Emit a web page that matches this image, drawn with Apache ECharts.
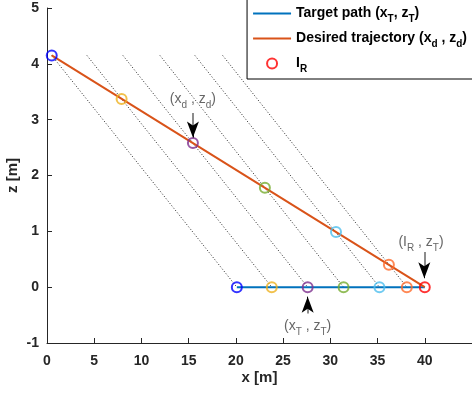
<!DOCTYPE html>
<html>
<head>
<meta charset="utf-8">
<script src="https://cdn.jsdelivr.net/npm/echarts@6/dist/echarts.min.js"></script>
<style>
  html, body { margin: 0; padding: 0; background: #fff; }
  #box { width: 472px; height: 396px; }
</style>
</head>
<body>
<div id="box"></div>
<script>
// 数据
var targetX = [20.1, 23.8, 27.6, 31.4, 35.2, 38.1, 40];
var targetZ = [0, 0, 0, 0, 0, 0, 0];
var trajX = [0.5, 7.9, 15.45, 23.07, 30.6, 36.2, 40];
var trajZ = [4.15, 3.37, 2.58, 1.78, 0.99, 0.40, 0];
var dotTopX = [0.5, 4.23, 8.04, 11.96, 15.66, 18.6];
var dotTopZ = [4.15, 4.15, 4.15, 4.15, 4.15, 4.15];
var pointColors = ['#0000ff', '#EDB120', '#7E2F8E', '#77AC30', '#4DBEEE', '#FF6A2A', '#ff0000'];
// 标注: [x, z, 文字]
var notes = [
    [15.45, 3.36, '{a|(x}{s|d}{a| , z}{s|d}{a|)}'],
    [27.6, -0.7, '{a|(x}{s|T}{a| , z}{s|T}{a|)}'],
    [39.6, 0.8, '{a|(I}{s|R}{a| , z}{s|T}{a|)}']
];
// 箭头: [x, 起点z, 终点z]
var arrows = [
    [15.45, 3.12, 2.68],
    [27.6, -0.47, -0.17],
    [39.95, 0.63, 0.16]
];

var myChart = echarts.init(document.getElementById('box'));

var subRich = {
    a: { fontSize: 14, lineHeight: 15, verticalAlign: 'top', color: '#404040', fontFamily: 'Liberation Sans' },
    s: { fontSize: 10, lineHeight: 10, padding: [8, 0, 0, 0], verticalAlign: 'top', color: '#404040', fontFamily: 'Liberation Sans' }
};
var legRich = {
    a: { fontSize: 14, lineHeight: 15, verticalAlign: 'top', fontWeight: 'bold', color: '#000', fontFamily: 'Liberation Sans' },
    s: { fontSize: 10, lineHeight: 10, padding: [8, 0, 0, 0], verticalAlign: 'top', fontWeight: 'bold', color: '#000', fontFamily: 'Liberation Sans' }
};
var legNames = {
    'Target path': '{a|Target path (x}{s|T}{a|, z}{s|T}{a|)}',
    'Desired trajectory': '{a|Desired trajectory (x}{s|d}{a| , z}{s|d}{a|)}',
    'I_R': '{a|I}{s|R}'
};

function circles(xs, zs) {
    return xs.map(function (x, i) {
        return {
            value: [x, zs[i]],
            itemStyle: { borderColor: pointColors[i] }
        };
    });
}

var series = [];
// 虚线
dotTopX.forEach(function (x, i) {
    series.push({
        type: 'line',
        silent: true,
        symbol: 'none',
        data: [[x, dotTopZ[i]], [targetX[i], targetZ[i]]],
        lineStyle: { color: '#222', width: 1, type: [1, 2] },
        z: 1
    });
});
series.push({
    name: 'Target path',
    type: 'line',
    symbol: 'none',
    data: [[targetX[0], targetZ[0]], [targetX[6], targetZ[6]]],
    itemStyle: { color: '#0072BD' },
    lineStyle: { color: '#0072BD', width: 2 },
    z: 2
});
series.push({
    name: 'Desired trajectory',
    type: 'line',
    symbol: 'none',
    data: [[trajX[0], trajZ[0]], [trajX[6], trajZ[6]]],
    itemStyle: { color: '#D95319' },
    lineStyle: { color: '#D95319', width: 2 },
    z: 2
});
series.push({
    type: 'scatter',
    symbol: 'circle',
    symbolSize: 10,
    data: circles(targetX.slice(0, 6), targetZ).concat(circles(trajX.slice(0, 6), trajZ)),
    itemStyle: { color: 'rgba(0,0,0,0)', borderWidth: 2 },
    z: 3
});
series.push({
    name: 'I_R',
    type: 'scatter',
    symbol: 'circle',
    symbolSize: 10,
    data: [[targetX[6], targetZ[6]]],
    itemStyle: { color: 'rgba(0,0,0,0)', borderColor: '#ff0000', borderWidth: 2 },
    z: 4
});
// 文字和箭头
series.push({
    type: 'scatter',
    symbolSize: 0,
    silent: true,
    data: notes.map(function (n) {
        return { value: [n[0], n[1]], label: { formatter: n[2] } };
    }),
    label: { show: true, position: 'inside', rich: subRich },
    markLine: {
        silent: true,
        animation: false,
        label: { show: false },
        data: arrows.map(function (a) {
            var d = a[1] > a[2] ? 1 : -1;
            return [
                { coord: [a[0], a[1]], symbol: 'none', lineStyle: { color: '#666', width: 1.5, type: 'solid' } },
                { coord: [a[0], a[2] + 0.1 * d], symbol: 'none' }
            ];
        }).concat(arrows.map(function (a) {
            var d = a[1] > a[2] ? 1 : -1;
            return [
                { coord: [a[0], a[2] + 0.2 * d], symbol: 'none', lineStyle: { color: '#000', width: 1, type: 'solid' } },
                { coord: [a[0], a[2]], symbol: 'arrow', symbolSize: [9, 16] }
            ];
        }))
    },
    z: 5
});

var noDot = { color: 'rgba(0,0,0,0)', borderWidth: 0 };

var option = {
    animation: false,
    grid: { left: 47, right: 0, top: 8, bottom: 53, outerBoundsMode: 'none', containLabel: false },
    legend: {
        orient: 'vertical',
        right: -4,
        top: -2,
        data: [
            { name: 'Target path', itemStyle: noDot },
            { name: 'Desired trajectory', itemStyle: noDot },
            { name: 'I_R', icon: 'circle', itemStyle: { color: 'rgba(0,0,0,0)', borderColor: '#ff0000', borderWidth: 2 } }
        ],
        itemWidth: 38,
        itemHeight: 10,
        itemGap: 7,
        padding: [8, 9, 5, 5],
        borderColor: '#000',
        borderWidth: 1,
        backgroundColor: '#fff',
        formatter: function (name) { return legNames[name]; },
        textStyle: { rich: legRich }
    },
    xAxis: {
        type: 'value',
        min: 0,
        max: 45,
        interval: 5,
        name: 'x [m]',
        nameLocation: 'middle',
        nameGap: 27,
        nameMoveOverlap: false,
        nameTextStyle: { fontSize: 15, fontWeight: 'bold', color: '#262626', fontFamily: 'Liberation Sans' },
        axisLine: { onZero: false, lineStyle: { color: '#262626', width: 1 } },
        axisTick: { inside: true, length: 5, lineStyle: { color: '#262626' } },
        axisLabel: { showMaxLabel: false, margin: 11, fontSize: 14, fontWeight: 'bold', color: '#262626', fontFamily: 'Liberation Sans' },
        splitLine: { show: false }
    },
    yAxis: {
        type: 'value',
        min: -1,
        max: 5,
        interval: 1,
        name: 'z [m]',
        nameLocation: 'middle',
        nameGap: 27,
        nameMoveOverlap: false,
        nameTextStyle: { fontSize: 15, fontWeight: 'bold', color: '#262626', fontFamily: 'Liberation Sans' },
        axisLine: { onZero: false, lineStyle: { color: '#262626', width: 1 } },
        axisTick: { inside: true, length: 5, lineStyle: { color: '#262626' } },
        axisLabel: { margin: 8, fontSize: 14, fontWeight: 'bold', color: '#262626', fontFamily: 'Liberation Sans' },
        splitLine: { show: false }
    },
    series: series
};

myChart.setOption(option);
</script>
</body>
</html>
